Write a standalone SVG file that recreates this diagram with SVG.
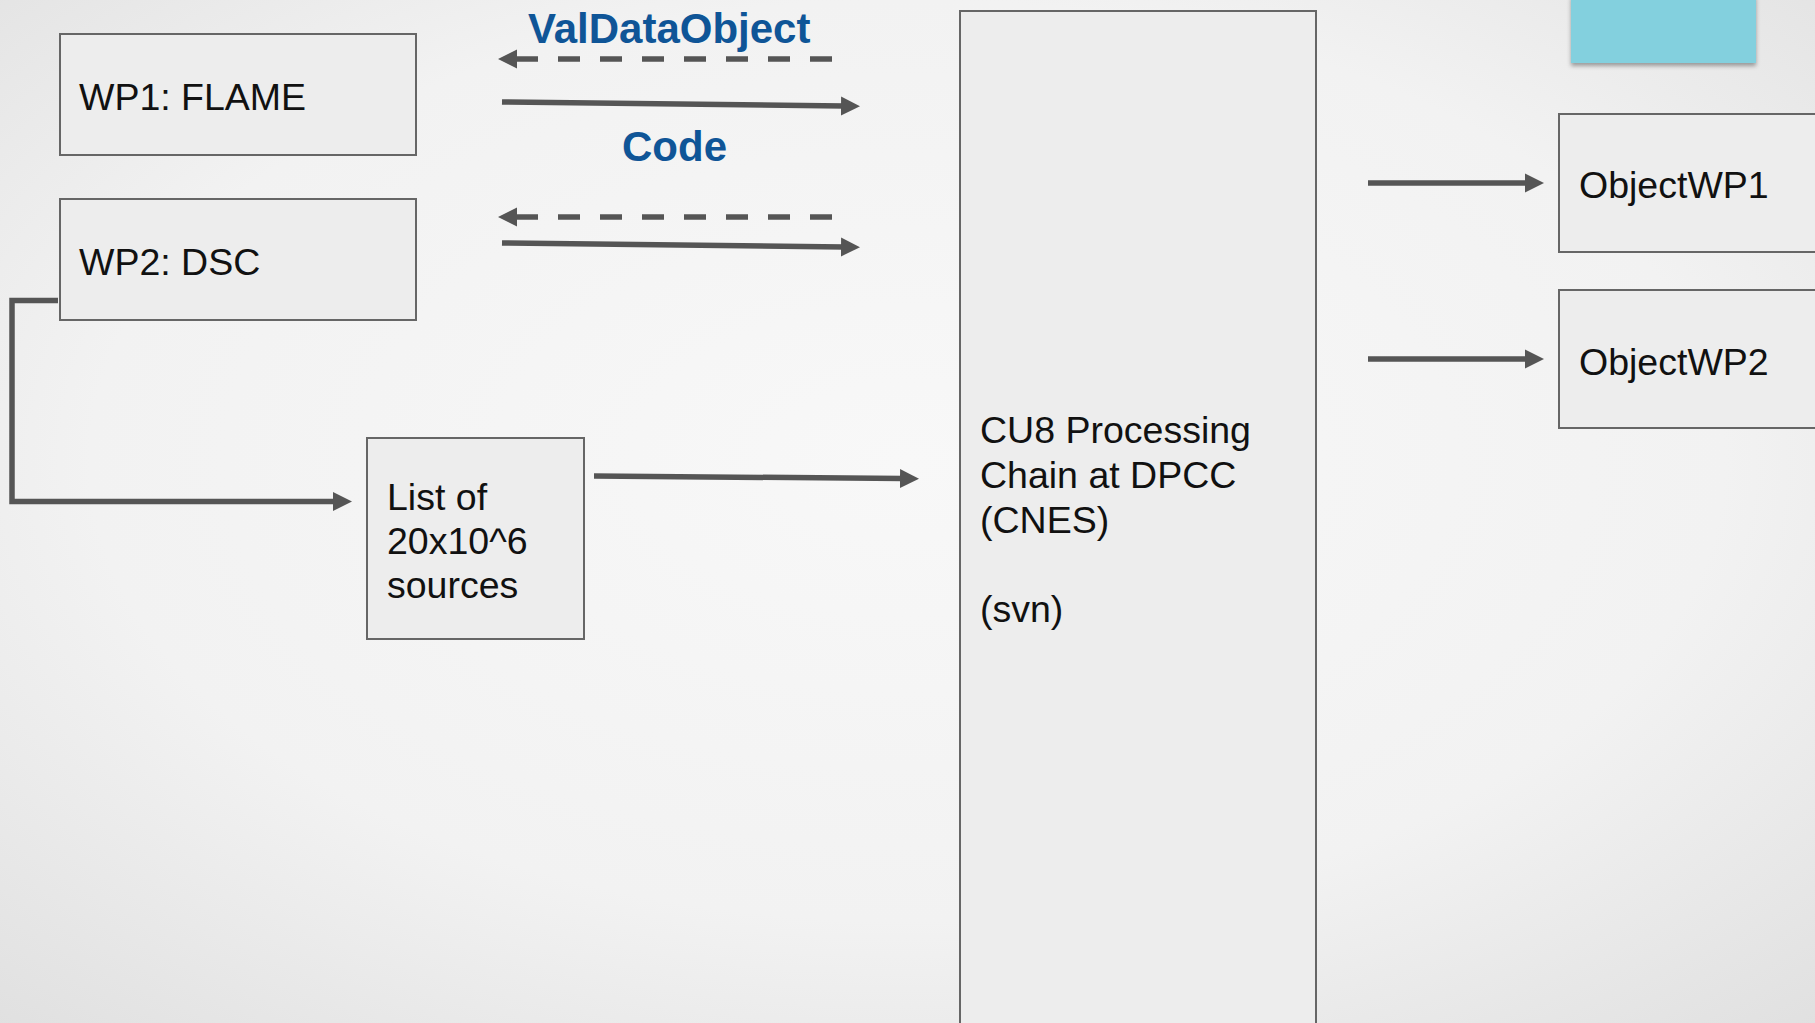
<svg xmlns="http://www.w3.org/2000/svg" width="1815" height="1023" viewBox="0 0 1815 1023">
<defs>
<radialGradient id="bg" cx="50%" cy="45%" r="75%">
<stop offset="0" stop-color="#f8f8f8"/>
<stop offset="0.6" stop-color="#f2f2f2"/>
<stop offset="1" stop-color="#e0e0e0"/>
</radialGradient>
<filter id="sh" x="-10%" y="-10%" width="120%" height="130%">
<feDropShadow dx="0" dy="3" stdDeviation="2" flood-color="#000" flood-opacity="0.35"/>
</filter>
<marker id="ah" markerUnits="userSpaceOnUse" markerWidth="20" markerHeight="20" viewBox="0 0 20 20" refX="3" refY="10" orient="auto">
<path d="M0,0.5 L19,10 L0,19.5 z" fill="#555"/>
</marker>
<style>
.box{fill:#ededed;stroke:#666;stroke-width:2}
.t{font-family:"Liberation Sans",Arial,sans-serif;font-size:37.5px;fill:#111}
.lbl{font-family:"Liberation Sans",Arial,sans-serif;font-size:42px;font-weight:bold;fill:#0f5597}
.c{fill:none;stroke:#555;stroke-width:5.5}
.d{stroke-dasharray:22 20}
</style>
</defs>
<rect width="1815" height="1023" fill="url(#bg)"/>
<g id="cyan-tab"><rect x="1571" y="-5" width="185" height="68" fill="#83d0de" filter="url(#sh)"/></g>
<g id="wp1"><rect class="box" x="60" y="34" width="356" height="121"/><text class="t" x="79" y="110">WP1: FLAME</text></g>
<g id="wp2"><rect class="box" x="60" y="199" width="356" height="121"/><text class="t" x="79" y="275">WP2: DSC</text></g>
<g id="list"><rect class="box" x="367" y="438" width="217" height="201"/><text class="t" x="387" y="510">List of</text><text class="t" x="387" y="554">20x10^6</text><text class="t" x="387" y="598">sources</text></g>
<g id="cu8"><rect class="box" x="960" y="11" width="356" height="1030"/><text class="t" x="980" y="443">CU8 Processing</text><text class="t" x="980" y="488">Chain at DPCC</text><text class="t" x="980" y="533">(CNES)</text><text class="t" x="980" y="622">(svn)</text></g>
<g id="objwp1"><rect class="box" x="1559" y="114" width="270" height="138"/><text class="t" x="1579" y="198">ObjectWP1</text></g>
<g id="objwp2"><rect class="box" x="1559" y="290" width="270" height="138"/><text class="t" x="1579" y="375">ObjectWP2</text></g>
<g id="labels"><text class="lbl" x="528" y="43">ValDataObject</text><text class="lbl" x="622" y="161">Code</text></g>
<g id="connectors">
<path class="c d" d="M832,59 L514,59" marker-end="url(#ah)"/>
<path class="c" d="M502,102 L844,106" marker-end="url(#ah)"/>
<path class="c d" d="M832,217 L514,217" marker-end="url(#ah)"/>
<path class="c" d="M502,243 L844,247" marker-end="url(#ah)"/>
<path class="c" d="M58,300.5 L12,300.5 L12,501.5 L336,501.5" marker-end="url(#ah)"/>
<path class="c" d="M594,476 L903,478.5" marker-end="url(#ah)"/>
<path class="c" d="M1368,183 L1528,183" marker-end="url(#ah)"/>
<path class="c" d="M1368,359 L1528,359" marker-end="url(#ah)"/>
</g>
</svg>
